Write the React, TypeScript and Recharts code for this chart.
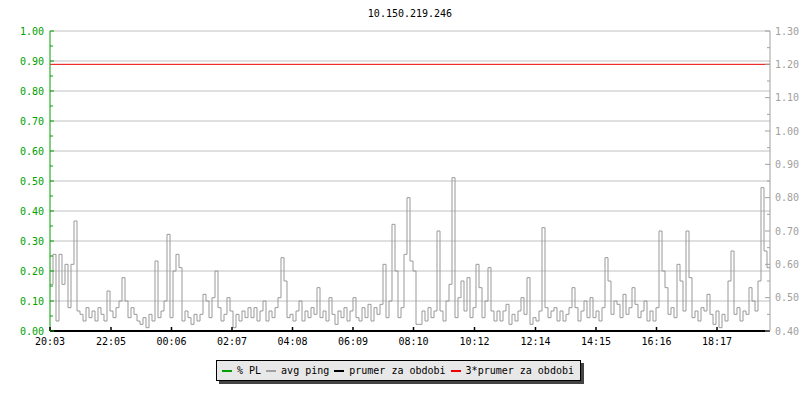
import { ComposedChart, Line, XAxis, YAxis, CartesianGrid, ReferenceLine } from "recharts";

const title = "10.150.219.246";

// x axis: minutes since 20:03, one px = 2 minutes
const timeTicks = [0, 122, 243, 364, 485, 606, 727, 849, 971, 1092, 1213, 1334];
const timeLabels = ["20:03", "22:05", "00:06", "02:07", "04:08", "06:09", "08:10", "10:12", "12:14", "14:15", "16:16", "18:17"];

const plLabels = ["0.00", "0.10", "0.20", "0.30", "0.40", "0.50", "0.60", "0.70", "0.80", "0.90", "1.00"];
const pingLabels = ["0.40", "0.50", "0.60", "0.70", "0.80", "0.90", "1.00", "1.10", "1.20", "1.30"];

// avg ping (ms), one sample every 6 minutes
const stepMinutes = 6;
const avgPing = [
  0.54, 0.63, 0.43, 0.63, 0.54, 0.60, 0.47, 0.60, 0.73, 0.46,
  0.45, 0.43, 0.47, 0.44, 0.46, 0.43, 0.47, 0.45, 0.43, 0.52,
  0.46, 0.44, 0.47, 0.49, 0.56, 0.49, 0.44, 0.47, 0.45, 0.43,
  0.42, 0.44, 0.41, 0.45, 0.43, 0.61, 0.44, 0.46, 0.49, 0.69,
  0.44, 0.58, 0.63, 0.59, 0.43, 0.46, 0.44, 0.42, 0.45, 0.43,
  0.45, 0.51, 0.49, 0.44, 0.50, 0.58, 0.47, 0.43, 0.45, 0.50,
  0.46, 0.41, 0.45, 0.43, 0.46, 0.44, 0.47, 0.44, 0.47, 0.43,
  0.46, 0.49, 0.43, 0.46, 0.44, 0.47, 0.50, 0.62, 0.55, 0.44,
  0.45, 0.43, 0.46, 0.49, 0.43, 0.46, 0.44, 0.47, 0.45, 0.53,
  0.44, 0.46, 0.43, 0.50, 0.45, 0.42, 0.46, 0.44, 0.47, 0.43,
  0.46, 0.50, 0.44, 0.43, 0.47, 0.44, 0.48, 0.43, 0.47, 0.45,
  0.48, 0.60, 0.44, 0.49, 0.72, 0.58, 0.44, 0.47, 0.63, 0.80,
  0.61, 0.58, 0.42, 0.42, 0.46, 0.43, 0.47, 0.44, 0.46, 0.70,
  0.46, 0.43, 0.49, 0.54, 0.86, 0.44, 0.50, 0.55, 0.46, 0.56,
  0.44, 0.47, 0.60, 0.53, 0.44, 0.49, 0.59, 0.46, 0.43, 0.46,
  0.43, 0.46, 0.48, 0.42, 0.45, 0.43, 0.46, 0.50, 0.45, 0.56,
  0.42, 0.44, 0.43, 0.46, 0.71, 0.47, 0.44, 0.46, 0.47, 0.43,
  0.46, 0.43, 0.45, 0.47, 0.53, 0.47, 0.43, 0.46, 0.49, 0.44,
  0.50, 0.44, 0.46, 0.43, 0.47, 0.62, 0.55, 0.45, 0.49, 0.48,
  0.44, 0.51, 0.45, 0.47, 0.53, 0.48, 0.44, 0.46, 0.49, 0.43,
  0.46, 0.43, 0.47, 0.70, 0.58, 0.53, 0.45, 0.47, 0.44, 0.60,
  0.55, 0.46, 0.70, 0.56, 0.44, 0.46, 0.43, 0.47, 0.46, 0.51,
  0.45, 0.42, 0.46, 0.41, 0.45, 0.43, 0.55, 0.64, 0.45, 0.47,
  0.43, 0.46, 0.45, 0.53, 0.49, 0.46, 0.55, 0.83, 0.64, 0.59,
  0.59,
];

const prumer = 0.4;
const triplePrumer = 1.2;

const legendItems = [
  { name: "% PL", color: "#00a000" },
  { name: "avg ping", color: "#a0a0a0" },
  { name: "prumer za obdobi", color: "#000000" },
  { name: "3*prumer za obdobi", color: "#ee0000" },
];

const data = avgPing.map((v, i) => ({ t: i * stepMinutes, ping: v }));

const FONT = "'DejaVu Sans Mono', monospace";
const GREEN = "#00a000";
const GRAY = "#a0a0a0";

const plMajor = plLabels.map(Number);
const plTicks = [...plMajor, ...plMajor.slice(1).map((v) => v - 0.05)].sort((a, b) => a - b);
const pingMajor = pingLabels.map(Number);
const pingTicks = [...pingMajor, ...pingMajor.slice(1).map((v) => v - 0.05)].sort((a, b) => a - b);

const findLabel = (labels: string[], v: number) => labels.find((l) => Math.abs(Number(l) - v) < 1e-6);

const LeftTick = ({ x, y, payload }: any) => {
  const label = findLabel(plLabels, payload.value);
  const ax = x + 6;
  return (
    <g>
      <line x1={ax} x2={ax + (label ? 4 : 3)} y1={y} y2={y} stroke={GREEN} />
      {label && (
        <text x={x} y={y} dy="0.35em" textAnchor="end" fill={GREEN} fontSize={10} fontFamily={FONT}>
          {label}
        </text>
      )}
    </g>
  );
};

const RightTick = ({ x, y, payload }: any) => {
  const label = findLabel(pingLabels, payload.value);
  const ax = x - 5;
  return (
    <g>
      <line x1={ax} x2={ax - (label ? 5 : 3)} y1={y} y2={y} stroke={GRAY} />
      {label && (
        <text x={x} y={y} dy="0.35em" textAnchor="start" fill={GRAY} fontSize={10} fontFamily={FONT}>
          {label}
        </text>
      )}
    </g>
  );
};

const TimeTick = ({ x, y, payload }: any) => {
  const idx = timeTicks.indexOf(payload.value);
  const ay = y - 10;
  return (
    <g>
      <line x1={x} x2={x} y1={ay} y2={ay - 4} stroke="#000" strokeWidth={1.5} />
      <text x={x} y={y} dy="0.35em" textAnchor="middle" fill="#000" fontSize={10} fontFamily={FONT}>
        {timeLabels[idx]}
      </text>
    </g>
  );
};

export default function App() {
  return (
    <div style={{ position: "absolute", left: 0, top: 0, width: 800, height: 400, background: "#fff", fontFamily: FONT }}>
      <div style={{ position: "absolute", left: 0, width: 820, top: 8, textAlign: "center", fontSize: 10, color: "#000" }}>
        {title}
      </div>
      <ComposedChart width={800} height={400} data={data} margin={{ top: 31, right: 0, bottom: 0, left: 0 }}>
        <CartesianGrid
          yAxisId="left"
          vertical={false}
          horizontalValues={plMajor.slice(1)}
          stroke="#c0c0c0"
          strokeWidth={1}
        />
        <XAxis
          dataKey="t"
          type="number"
          domain={[0, 1440]}
          ticks={timeTicks}
          interval={0}
          height={69}
          tickSize={0}
          tickMargin={10}
          tickLine={false}
          axisLine={{ stroke: "#000", strokeWidth: 2 }}
          tick={<TimeTick />}
          allowDataOverflow
        />
        <YAxis
          yAxisId="left"
          orientation="left"
          type="number"
          domain={[0, 1]}
          ticks={plTicks}
          interval={0}
          width={50}
          tickSize={0}
          tickMargin={6}
          tickLine={false}
          axisLine={{ stroke: GREEN }}
          tick={<LeftTick />}
          allowDataOverflow
        />
        <YAxis
          yAxisId="right"
          orientation="right"
          type="number"
          domain={[0.4, 1.3]}
          ticks={pingTicks}
          interval={0}
          width={30}
          tickSize={0}
          tickMargin={5}
          tickLine={false}
          axisLine={{ stroke: GRAY }}
          tick={<RightTick />}
          allowDataOverflow
        />
        <Line
          yAxisId="right"
          type="stepAfter"
          dataKey="ping"
          stroke="#999999"
          strokeWidth={1}
          dot={false}
          activeDot={false}
          isAnimationActive={false}
        />
        <ReferenceLine yAxisId="right" y={triplePrumer} stroke="#ee0000" strokeWidth={1} />
        <ReferenceLine yAxisId="right" y={prumer} stroke="#000" strokeWidth={2} />
      </ComposedChart>
      <div
        style={{
          position: "absolute",
          left: 216,
          top: 360,
          width: 365,
          height: 21,
          boxSizing: "border-box",
          border: "1px solid #000",
          boxShadow: "3px 3px 0 #444",
          background: "#e8e8e8",
          display: "flex",
          alignItems: "center",
          paddingLeft: 5,
          fontSize: 10,
          color: "#000",
          whiteSpace: "pre",
        }}
      >
        {legendItems.map((it) => (
          <div key={it.name} style={{ display: "flex", alignItems: "center", marginRight: 5 }}>
            <span style={{ display: "inline-block", width: 10, height: 2, background: it.color, marginRight: 5 }} />
            <span>{it.name}</span>
          </div>
        ))}
      </div>
    </div>
  );
}
